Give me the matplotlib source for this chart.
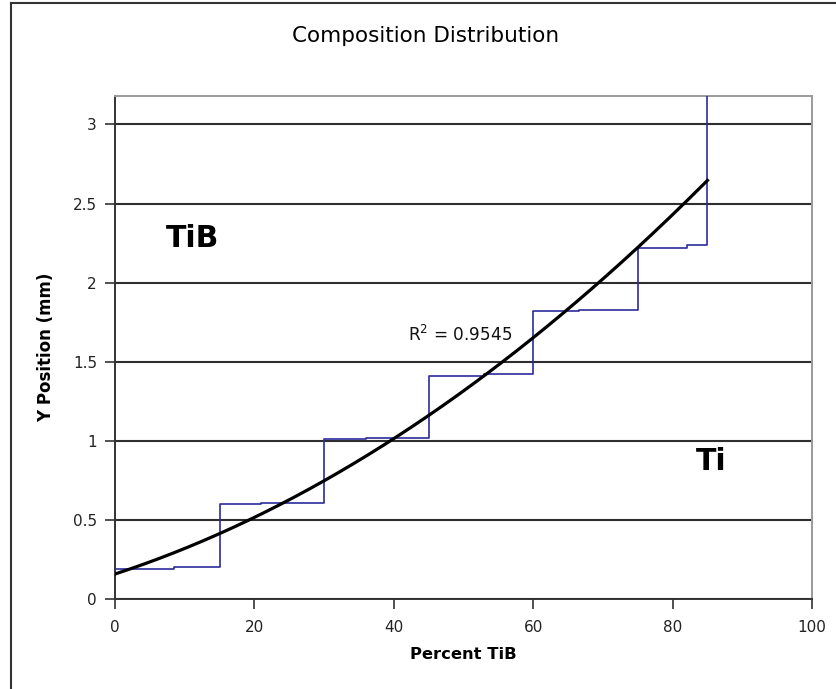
import numpy as np
import matplotlib
matplotlib.use("Agg")
import matplotlib.pyplot as plt
from matplotlib.lines import Line2D

# ---- data ----
step_x = [0, 0, 8.5, 8.5, 15, 15, 21, 21, 30, 30, 36, 36, 45, 45, 53, 53,
          60, 60, 66.5, 66.5, 75, 75, 82, 82, 85, 85]
step_y = [0, 0.19, 0.19, 0.20, 0.20, 0.60, 0.60, 0.61, 0.61, 1.01, 1.01, 1.02,
          1.02, 1.41, 1.41, 1.42, 1.42, 1.82, 1.82, 1.83, 1.83, 2.22, 2.22,
          2.235, 2.235, 3.5]
trend_coef = [0.000175, 0.0144, 0.158]   # 2nd-order polynomial trendline
trend_range = [0, 85]
r2_text = "R$^2$ = 0.9545"
x_ticks = [0, 20, 40, 60, 80, 100]
y_ticks = [0, 0.5, 1, 1.5, 2, 2.5, 3]
y_tick_labels = ["0", "0.5", "1", "1.5", "2", "2.5", "3"]

plt.rcParams['font.family'] = ['DejaVu Sans']

W, H = 836, 689
fig = plt.figure(figsize=(W / 100, H / 100), dpi=100)
fig.patch.set_facecolor('white')

# outer chart frame (left and top edges visible)
fig.add_artist(Line2D([11 / W, 11 / W], [0, 1 - 3 / H], transform=fig.transFigure,
                      color='#333333', lw=1.5))
fig.add_artist(Line2D([11 / W, 1], [1 - 3 / H, 1 - 3 / H], transform=fig.transFigure,
                      color='#333333', lw=1.5))

left, right, bottom, top = 115 / W, 812 / W, 1 - 599 / H, 1 - 96 / H
ax = fig.add_axes([left, bottom, right - left, top - bottom])
ax.set_xlim(0, 100)
ax.set_ylim(0, 3.18)

for y in y_ticks:
    ax.axhline(y, color='#2e2e2e', lw=1.5, zorder=1)

ax.plot(step_x, step_y, color='#2b2b9c', lw=1.2, zorder=3, clip_on=True)

tx = np.linspace(trend_range[0], trend_range[1], 200)
ax.plot(tx, np.polyval(trend_coef, tx), color='black', lw=2.3, zorder=4)

ax.text(42.1, 1.668, r2_text, fontsize=12.2, va='center', ha='left', color='#111111')
ax.text(7.3, 2.28, "TiB", fontsize=21.5, fontweight='bold', va='center', ha='left')
ax.text(83.3, 0.87, "Ti", fontsize=21.5, fontweight='bold', va='center', ha='left')

ax.set_xticks(x_ticks)
ax.set_xticklabels([str(v) for v in x_ticks])
ax.set_yticks(y_ticks)
ax.set_yticklabels(y_tick_labels)
ax.tick_params(axis='both', direction='out', length=7, width=1.2, color='#333333',
               labelsize=11, labelcolor='#222222')
ax.tick_params(axis='x', pad=8)
ax.tick_params(axis='y', pad=6)

for s in ['left', 'bottom']:
    ax.spines[s].set_color('#333333')
    ax.spines[s].set_linewidth(1.4)
for s in ['top', 'right']:
    ax.spines[s].set_color('#9a9a9a')
    ax.spines[s].set_linewidth(1.4)

ax.set_xlabel("Percent TiB", fontsize=11.8, fontweight='bold', labelpad=9)
ax.set_ylabel("Y Position (mm)", fontsize=12, fontweight='bold', labelpad=13)

fig.text(426 / W, 1 - 36 / H, "Composition Distribution", fontsize=15.5,
         ha='center', va='center')

fig.savefig("out.png", dpi=100)
